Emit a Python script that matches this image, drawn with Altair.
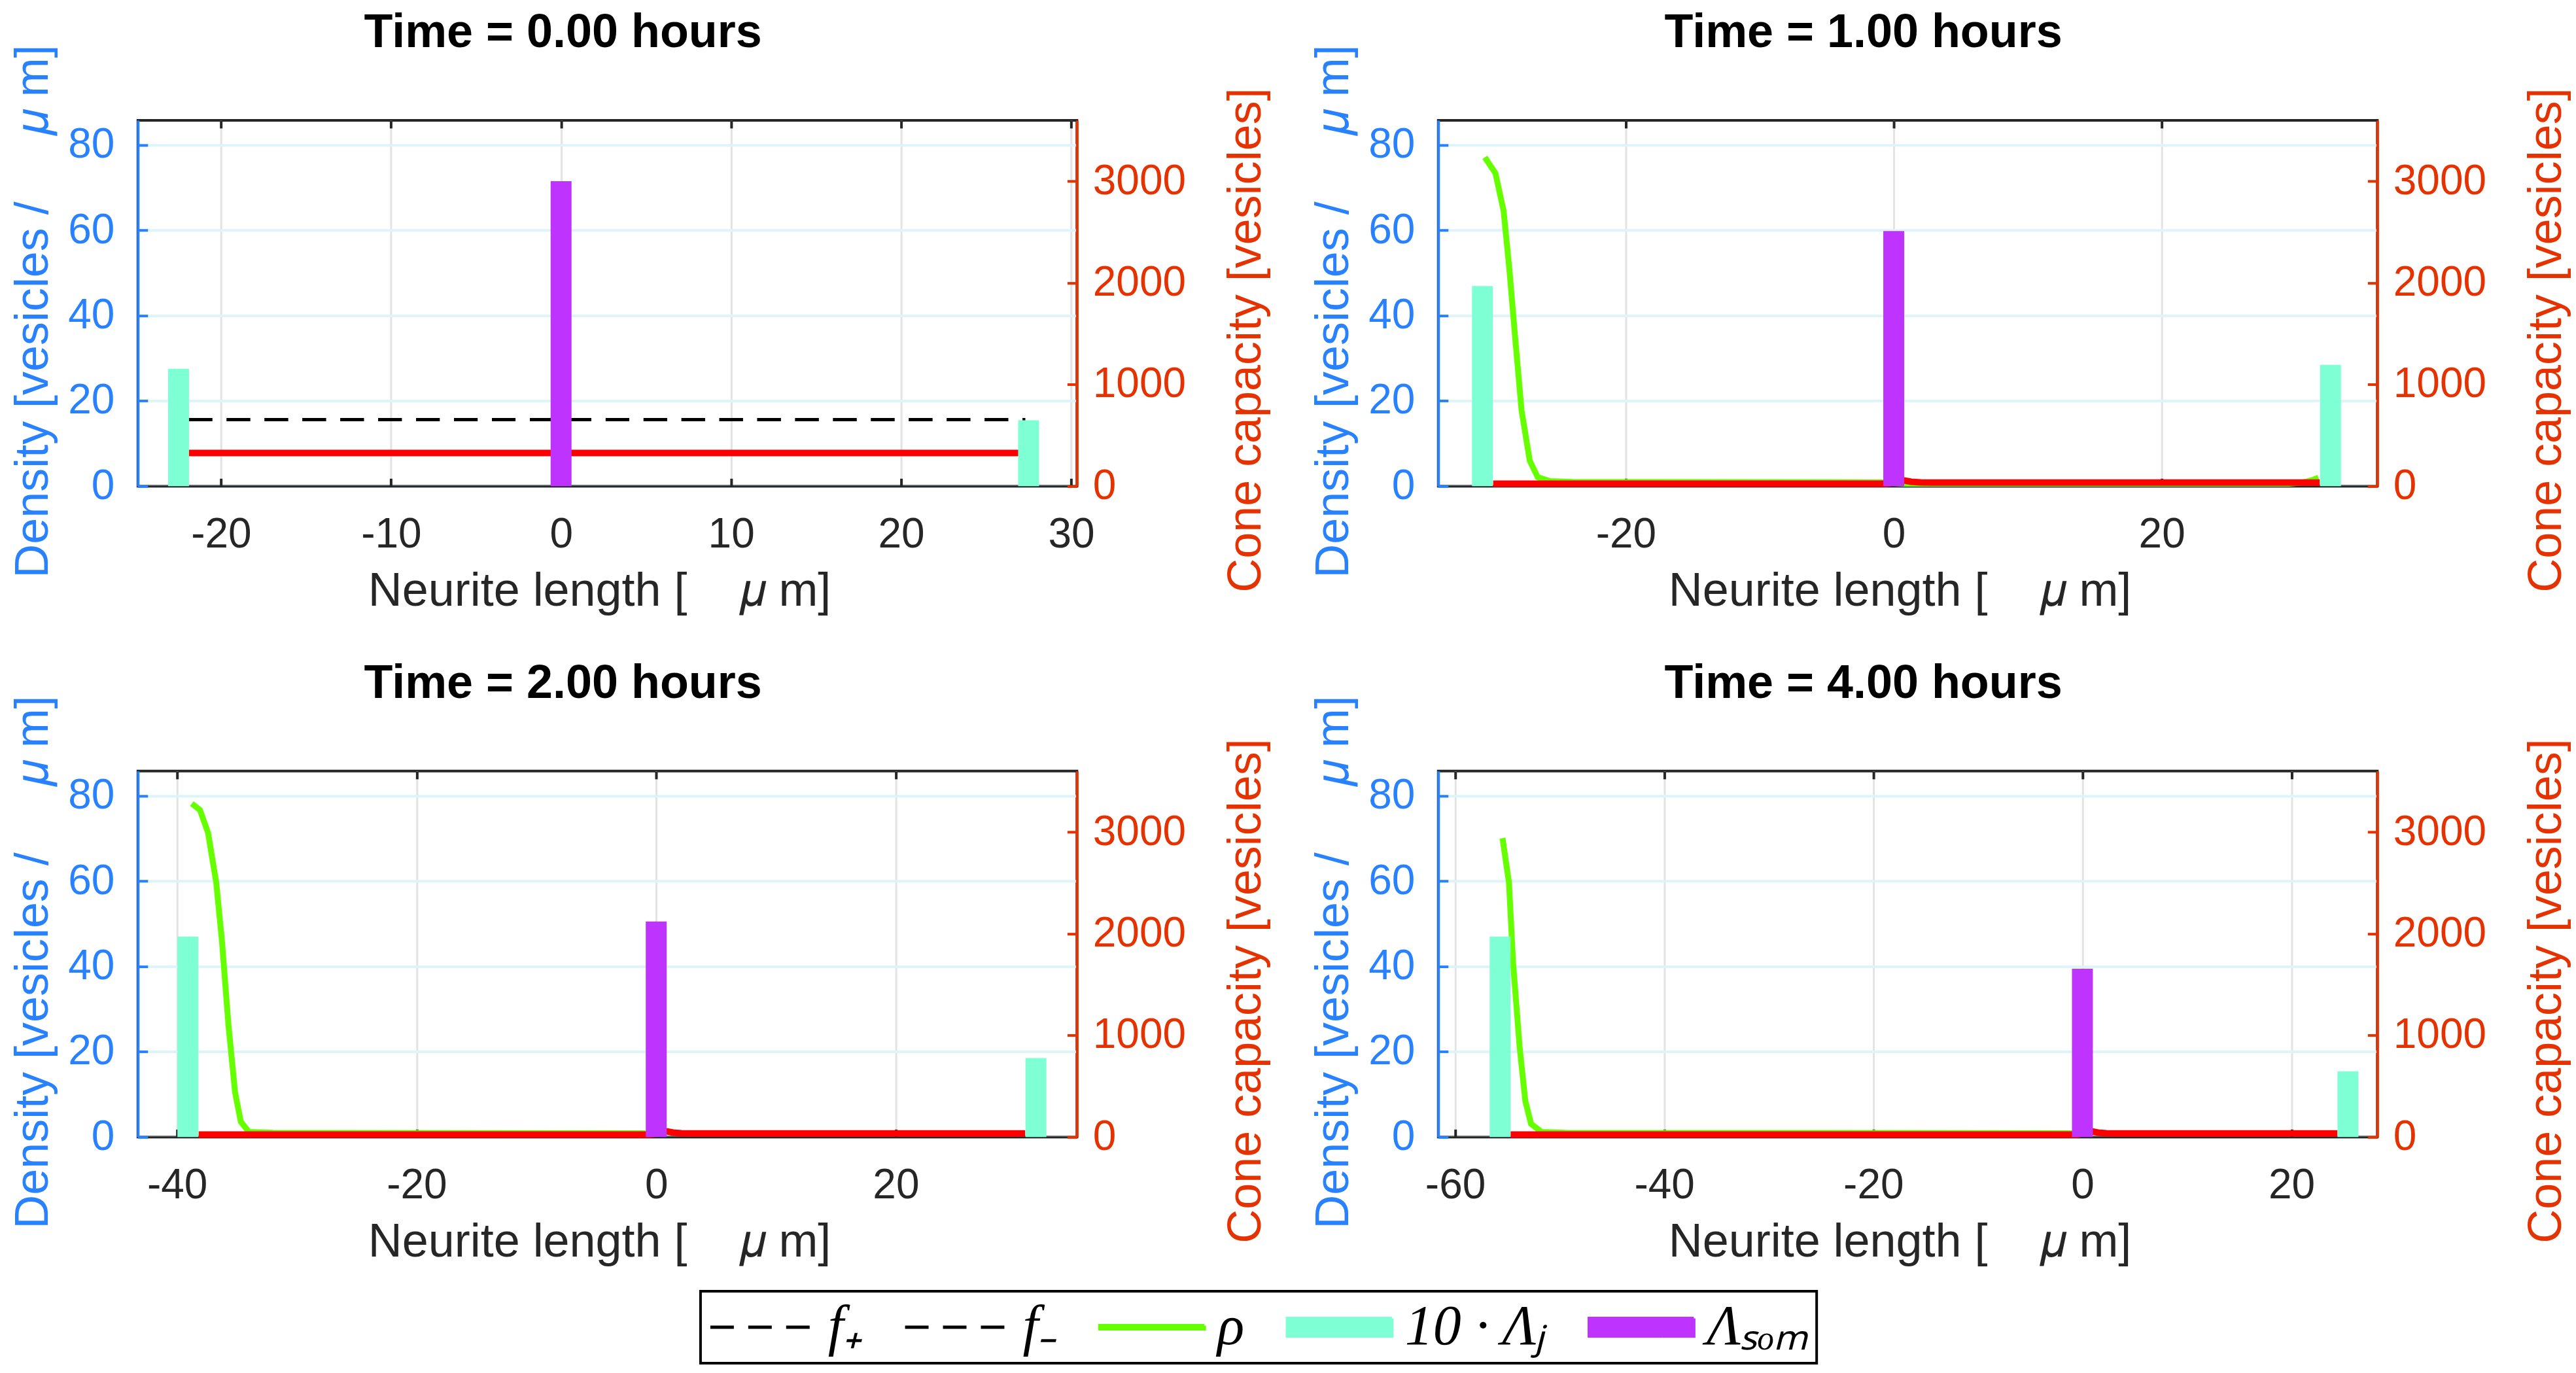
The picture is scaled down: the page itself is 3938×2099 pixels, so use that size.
import altair as alt
import pandas as pd

# ---------------- data ----------------
TITLES = ["Time = 0.00 hours", "Time = 1.00 hours", "Time = 2.00 hours", "Time = 4.00 hours"]
X_DOMAINS = [[-24.7, 30.15], [-33.75, 35.85], [-43.0, 34.85], [-61.3, 27.9]]
X_TICKS = [[-20, -10, 0, 10, 20, 30], [-20, 0, 20], [-40, -20, 0, 20], [-60, -40, -20, 0, 20]]
Y_LEFT_TICKS = [0, 20, 40, 60, 80]
Y_RIGHT_TICKS = [0, 1000, 2000, 3000]
Y_LEFT_DOMAIN = [0, 85.8]
Y_RIGHT_DOMAIN = [0, 3600]

LEGEND_LABELS = ["f₊", "f₋", "ρ", "10 · Λⱼ", "Λₛₒₘ"]

# 10·Λj bars (growth cones) : positions [µm] and values [vesicles]
CONE_X = [[-22.5, 27.5], [-30.7, 32.6], [-39.1, 31.7], [-55.7, 25.4]]
CONE_V = [[1155, 648], [1970, 1194], [1973, 778], [1973, 647]]
# Λ_Som bar (soma)
SOMA_X = [0, 0, 0, 0]
SOMA_V = [3000, 2510, 2121, 1656]

# ρ (green) density curves
RHO_X = [
    [],
    [-30.52, -29.73, -29.12, -28.69, -28.27, -27.78, -27.17, -26.57, -25.65, -24.0, -0.8, 0.8, 29.5, 30.6, 31.2, 31.7],
    [-38.77, -38.09, -37.41, -36.73, -36.25, -35.71, -35.16, -34.68, -34.0, -32.0, -0.9],
    [-55.47, -54.85, -54.46, -53.84, -53.29, -52.74, -51.73, -49.5, -1.0],
]
RHO_Y = [
    [],
    [77.1, 73.4, 64.6, 50.9, 35.3, 17.8, 6.0, 2.1, 1.2, 1.0, 0.9, 0.6, 0.6, 0.9, 1.4, 2.0],
    [78.2, 76.7, 71.3, 59.6, 45.8, 26.2, 10.5, 3.6, 1.2, 1.0, 0.9],
    [70.1, 59.6, 40.9, 21.3, 8.5, 3.1, 1.2, 1.0, 0.9],
]

# red density line
RED_X = [
    [-21.9, 26.9],
    [-29.9, -0.5, 0.8, 1.3, 2.0, 2.8, 31.8],
    [-38.2, -0.5, 0.9, 1.4, 2.1, 3.0, 30.8],
    [-54.7, -0.5, 1.0, 1.5, 2.3, 3.2, 24.4],
]
RED_Y = [
    [7.8, 7.8],
    [0.6, 0.6, 1.35, 1.05, 0.9, 0.85, 0.85],
    [0.6, 0.6, 1.35, 1.05, 0.9, 0.85, 0.85],
    [0.6, 0.6, 1.3, 1.05, 0.9, 0.85, 0.85],
]

# f+ and f- (dashed)
FPLUS_X = [[-21.9, 27.3], [], [], []]
FPLUS_Y = [[15.6, 15.6], [], [], []]
FMINUS_X = [[-21.9, 27.3], [], [], []]
FMINUS_Y = [[15.6, 15.6], [], [], []]

# ---------------- style ----------------
FONT = "Liberation Sans"
BLACK = "#262626"
BLUE = "#2882FF"
ORANGE = "#E63200"
GREEN = "#66FF00"
RED = "#FF0000"
CYAN = "#7FFFD4"
PURPLE = "#BF33FF"
W, H = 1437, 560
XT, YT = 12, 15

LEG_FILL = ["transparent", "transparent", GREEN, CYAN, PURPLE]
LEG_STROKE = ["#000000", "#000000", GREEN, CYAN, PURPLE]
LEG_SHAPE = ["M-2,0H2", "M-2,0H2", "M-2,-0.06H2V0.06H-2Z", "M-2,-0.34H2V0.34H-2Z", "M-2,-0.34H2V0.34H-2Z"]
LEG_DASH = [[36, 22], [36, 22], [1, 0], [1, 0], [1, 0]]

X_TITLE = "Neurite length [\u00a0\u00a0\u00a0\u00a0\U0001D707 m]"
YL_TITLE = "Density [vesicles /\u00a0\u00a0\u00a0\u00a0\u00a0\U0001D707 m]"
YR_TITLE = "Cone capacity [vesicles]"


def line_df(xs, ys):
    return pd.DataFrame({"x": xs, "y": ys})


def xenc(dom, axis):
    return alt.X("x:Q", scale=alt.Scale(domain=dom, nice=False, zero=False), axis=axis)


def yl(axis):
    return alt.Y("y:Q", scale=alt.Scale(domain=Y_LEFT_DOMAIN, nice=False, zero=False), axis=axis)


def yr(axis):
    return alt.Y("v:Q", scale=alt.Scale(domain=Y_RIGHT_DOMAIN, nice=False, zero=False), axis=axis)


def main_x_axis(ticks):
    return alt.Axis(orient="bottom", values=ticks, ticks=False, grid=True, gridColor="#E3E3E3", gridWidth=3,
                    domain=True, domainColor=BLACK, domainWidth=3, labels=True, labelFont=FONT,
                    labelFontSize=64, labelColor=BLACK, labelPadding=42, labelExpr="toString(datum.value)",
                    labelFlush=False, labelOverlap=False, labelBaseline="top", labelAlign="center",
                    title=X_TITLE, titleFont=FONT, titleFontSize=72, titleFontWeight="normal",
                    titleColor=BLACK, titleX=706, titleY=182, titleAlign="center",
                    titleBaseline="alphabetic", titleAngle=0, zindex=0)


def main_yl_axis():
    return alt.Axis(orient="left", values=Y_LEFT_TICKS, ticks=False, grid=True, gridColor="#DDF5FA",
                    gridWidth=4, domain=True, domainColor=BLUE, domainWidth=4, labels=True, labelFont=FONT,
                    labelFontSize=64, labelColor=BLUE, labelPadding=36, labelOverlap=False, labelFlush=False,
                    title=YL_TITLE, titleFont=FONT, titleFontSize=72, titleFontWeight="normal",
                    titleColor=BLUE, titleAngle=270, titleX=-138, titleY=292, titleAlign="center",
                    titleBaseline="alphabetic", zindex=0)


def main_yr_axis():
    return alt.Axis(orient="right", values=Y_RIGHT_TICKS, ticks=False, grid=False, domain=True,
                    domainColor=ORANGE, domainWidth=4, labels=True, labelFont=FONT, labelFontSize=64,
                    labelColor=ORANGE, labelPadding=24, labelExpr="toString(datum.value)",
                    labelOverlap=False, labelFlush=False,
                    title=YR_TITLE, titleFont=FONT, titleFontSize=72, titleFontWeight="normal",
                    titleColor=ORANGE, titleAngle=270, titleX=280, titleY=336, titleAlign="center",
                    titleBaseline="alphabetic", zindex=0)


def tick_axis(orient, ticks, size, color):
    return alt.Axis(orient=orient, values=ticks, offset=-size, ticks=True, tickSize=size, tickWidth=4,
                    tickColor=color, domain=False, grid=False, labels=False, title=None, zindex=0)


def top_axis(ticks, title):
    return alt.Axis(orient="top", values=ticks, offset=-XT, ticks=True, tickSize=XT, tickWidth=4,
                    tickColor=BLACK, domain=False, grid=False, labels=False,
                    title=title, titleFont=FONT, titleFontSize=72, titleFontWeight="bold",
                    titleColor="#000000", titleX=650, titleY=-124.5, titleAlign="center",
                    titleBaseline="alphabetic", titleAngle=0, zindex=0)


LEGEND = alt.Legend(orient="none", legendX=861, legendY=1792, direction="horizontal", columns=5,
                    title=None, labelFont="Liberation Serif", labelFontStyle="italic", labelFontSize=86,
                    labelColor="#000000", labelLimit=0, symbolSize=6400, symbolOffset=40, labelOffset=57,
                    symbolStrokeWidth=5, symbolOpacity=1,
                    columnPadding=55, padding=12, strokeColor="#000000")


def legend_layer():
    df = pd.DataFrame({"s": LEGEND_LABELS})
    return alt.Chart(df).mark_point(opacity=0, filled=True).encode(
        fill=alt.Fill("s:N", scale=alt.Scale(domain=LEGEND_LABELS, range=LEG_FILL), legend=LEGEND),
        stroke=alt.Stroke("s:N", scale=alt.Scale(domain=LEGEND_LABELS, range=LEG_STROKE), legend=LEGEND),
        shape=alt.Shape("s:N", scale=alt.Scale(domain=LEGEND_LABELS, range=LEG_SHAPE), legend=LEGEND),
        strokeDash=alt.StrokeDash("s:N", scale=alt.Scale(domain=LEGEND_LABELS, range=LEG_DASH), legend=LEGEND),
    )


def panel(i):
    dom = X_DOMAINS[i]
    ticks = X_TICKS[i]
    red = line_df(RED_X[i], RED_Y[i])

    left_layers = []
    if RHO_X[i]:
        left_layers.append(
            alt.Chart(line_df(RHO_X[i], RHO_Y[i])).mark_line(color=GREEN, strokeWidth=9)
            .encode(x=xenc(dom, None), y=yl(None)))
    for fx, fy in ((FPLUS_X, FPLUS_Y), (FMINUS_X, FMINUS_Y)):
        if fx[i]:
            left_layers.append(
                alt.Chart(line_df(fx[i], fy[i])).mark_line(color="#000000", strokeWidth=5, strokeDash=[36, 22])
                .encode(x=xenc(dom, None), y=yl(None)))
    left_layers.append(
        alt.Chart(red).mark_line(color=RED, strokeWidth=10)
        .encode(x=xenc(dom, main_x_axis(ticks)), y=yl(main_yl_axis())))
    left_layers.append(
        alt.Chart(red).mark_line(opacity=0)
        .encode(x=xenc(dom, tick_axis("bottom", ticks, XT, BLACK)),
                y=yl(tick_axis("left", Y_LEFT_TICKS, YT, BLUE))))
    left_layers.append(
        alt.Chart(red).mark_line(opacity=0)
        .encode(x=xenc(dom, top_axis(ticks, TITLES[i])), y=yl(None)))
    if i == 0:
        left_layers.append(legend_layer())
    left = alt.layer(*left_layers).resolve_axis(x="independent", y="independent")

    cone = pd.DataFrame({"x": CONE_X[i], "v": CONE_V[i]})
    soma = pd.DataFrame({"x": [SOMA_X[i]], "v": [SOMA_V[i]]})
    right = alt.layer(
        alt.Chart(cone).mark_bar(size=32, color=CYAN).encode(x=xenc(dom, None), y=yr(main_yr_axis())),
        alt.Chart(soma).mark_bar(size=32, color=PURPLE).encode(x=xenc(dom, None), y=yr(None)),
        alt.Chart(cone).mark_bar(size=32, opacity=0).encode(
            x=xenc(dom, None), y=yr(tick_axis("right", Y_RIGHT_TICKS, YT, ORANGE))),
    ).resolve_axis(x="independent", y="independent")

    return (alt.layer(left, right)
            .resolve_scale(y="independent")
            .resolve_axis(x="independent", y="independent")
            .properties(width=W, height=H))


chart = alt.concat(panel(0), panel(1), panel(2), panel(3), columns=2,
                   spacing={"row": 436, "column": 553}, bounds="flush")
chart = (chart
         .configure_view(stroke=BLACK, strokeWidth=4)
         .configure_legend(strokeWidth=4)
         .properties(padding={"left": 4, "top": 2, "right": 0, "bottom": 4}, background="white"))

chart.save("out.html", embed_options={"renderer": "svg", "actions": False})
